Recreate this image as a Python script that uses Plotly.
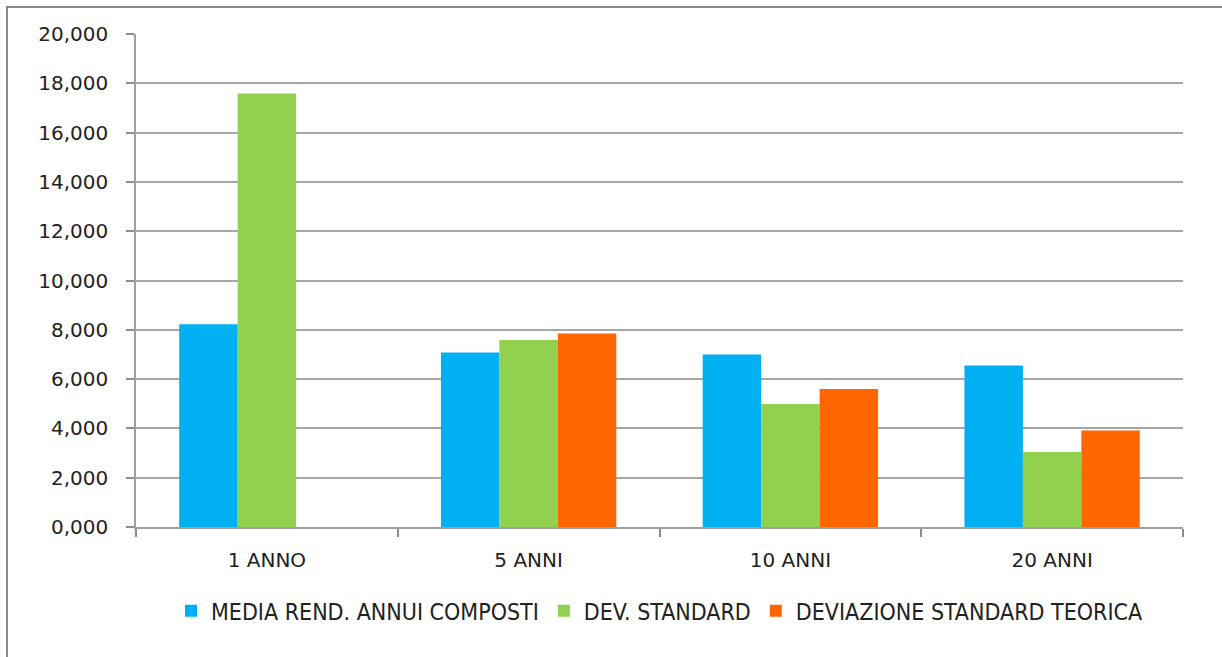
import plotly.graph_objects as go

categories = ["1 ANNO", "5 ANNI", "10 ANNI", "20 ANNI"]
media_rend = [8.23, 7.08, 7.00, 6.55]
dev_standard = [17.59, 7.59, 4.99, 3.04]
dev_teorica = [None, 7.85, 5.60, 3.91]

series_names = [
    "MEDIA REND. ANNUI COMPOSTI",
    "DEV. STANDARD",
    "DEVIAZIONE STANDARD TEORICA",
]
colors = ["#00B0F0", "#92D050", "#FF6600"]

fig = go.Figure()
for name, vals, col in zip(series_names, [media_rend, dev_standard, dev_teorica], colors):
    fig.add_trace(go.Bar(
        x=categories, y=vals, name=name,
        marker=dict(color=col, line=dict(width=0)),
    ))

W, H = 1222, 657
ml, mr, mt, mb = 136, 39, 34, 130
pw, ph = W - ml - mr, H - mt - mb

fig.update_layout(
    width=W, height=H,
    margin=dict(l=ml, r=mr, t=mt, b=mb),
    paper_bgcolor="white", plot_bgcolor="white",
    barmode="group", bargap=0.33, bargroupgap=0,
    separators=",.",
    font=dict(family="DejaVu Sans", size=20, color="#222222"),
    showlegend=True,
    legend=dict(
        orientation="h", x=0.5, xanchor="center", y=-0.17, yanchor="middle",
        font=dict(family="DejaVu Sans Condensed", size=23, color="#222222"),
        itemwidth=30, tracegroupgap=0,
    ),
    xaxis=dict(
        type="category", tickson="boundaries",
        ticks="outside", ticklen=8, tickcolor="#8c8c8c", tickwidth=1.5,
        showline=True, linecolor="#a0a0a0", linewidth=1.5,
        showgrid=False, tickfont=dict(size=20), ticklabelstandoff=14,
    ),
    yaxis=dict(
        range=[0, 20], dtick=2, tickformat=".3f",
        ticks="outside", ticklen=8, tickcolor="#8c8c8c", tickwidth=1.5,
        showline=True, linecolor="#a0a0a0", linewidth=1.5,
        showgrid=True, gridcolor="#a6a6a6", gridwidth=1.5,
        zeroline=False, tickfont=dict(size=20), ticklabelstandoff=14,
    ),
)

# outer chart frame
fig.add_shape(
    type="rect", xref="paper", yref="paper",
    x0=(7 - ml) / pw, x1=(W + 10 - ml) / pw,
    y0=-(H + 10 - mt - ph) / ph, y1=(H - mb - 7) / ph,
    line=dict(color="#888888", width=2), fillcolor="rgba(0,0,0,0)",
    layer="below",
)

fig.write_html("out.html")
